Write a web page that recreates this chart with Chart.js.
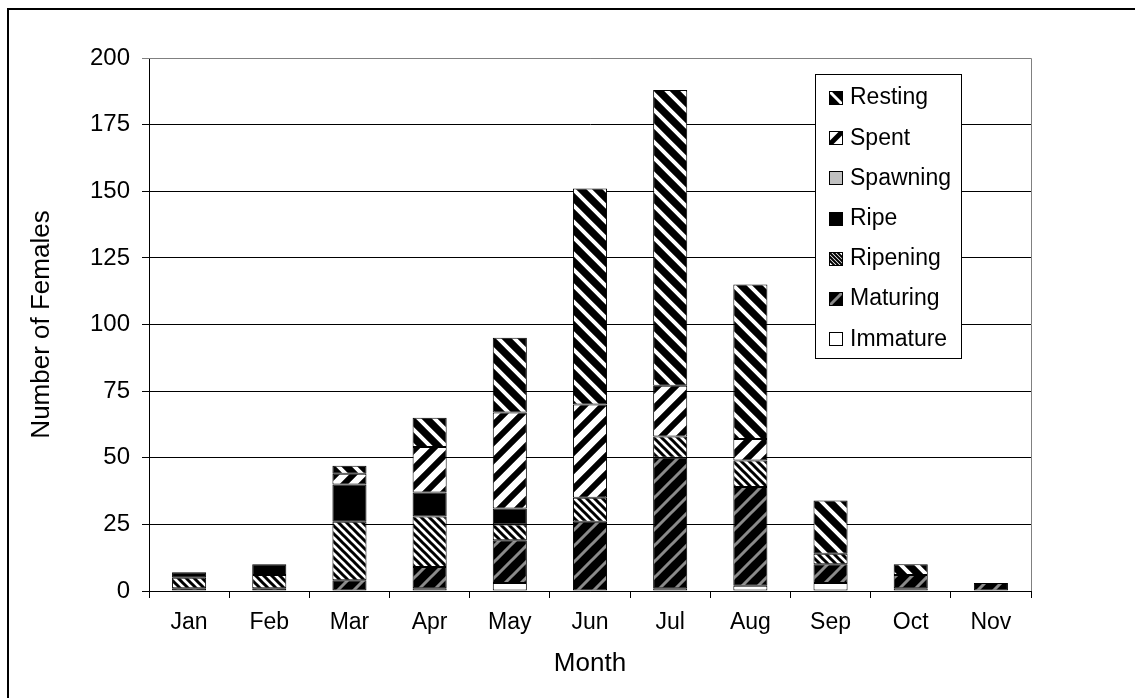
<!DOCTYPE html>
<html><head><meta charset="utf-8">
<script src="https://cdn.jsdelivr.net/npm/chart.js@4/dist/chart.umd.min.js"></script>
<style>html,body{margin:0;padding:0;background:#fff}#wrap{width:1135px;height:698px;position:relative}</style>
</head><body><div id="wrap"><canvas id="c" width="1135" height="698"></canvas></div>
<script>
const months = ['Jan','Feb','Mar','Apr','May','Jun','Jul','Aug','Sep','Oct','Nov'];
const immature = [0, 0, 0, 1, 3, 0, 1, 2, 3, 1, 0];
const maturing = [1, 1, 4, 8, 16, 26, 49, 37, 7, 5, 3];
const ripening = [4, 5, 22, 19, 6, 9, 8, 10, 4, 0, 0];
const ripe     = [2, 4, 14, 9, 6, 0, 0, 0, 0, 0, 0];
const spawning = [0, 0, 0, 0, 0, 0, 0, 0, 0, 0, 0];
const spent    = [0, 0, 4, 17, 36, 35, 19, 8, 0, 0, 0];
const resting  = [0, 0, 3, 11, 28, 81, 111, 58, 20, 4, 0];
const yTicks = [0, 25, 50, 75, 100, 125, 150, 175, 200];

const FONT = '"Liberation Sans", Arial, sans-serif';

function stripes(bg, fg, size, lw, dir) {
  const c = document.createElement('canvas');
  c.width = c.height = size;
  const x = c.getContext('2d');
  x.fillStyle = bg; x.fillRect(0, 0, size, size);
  x.strokeStyle = fg; x.lineWidth = lw;
  x.beginPath();
  for (let k = -1; k <= 1; k++) {
    if (dir === 'back') { x.moveTo(k*size - size, -size); x.lineTo(k*size + 2*size, 2*size); }
    else { x.moveTo(k*size - size, 2*size); x.lineTo(k*size + 2*size, -size); }
  }
  x.stroke();
  return x.createPattern(c, 'repeat');
}

const styles = {
  Immature: { bg: '#ffffff' },
  Maturing: { bg: '#000000', fg: '#8a8a8a', size: 16, lw: 3, dir: 'fwd', slw: 3 },
  Ripening: { bg: '#ffffff', fg: '#000000', size: 8, lw: 3, dir: 'back', sstep: 4, slw: 2 },
  Ripe:     { bg: '#000000' },
  Spawning: { bg: '#c0c0c0' },
  Spent:    { bg: '#ffffff', fg: '#000000', size: 18, lw: 6, dir: 'fwd', slw: 5 },
  Resting:  { bg: '#000000', fg: '#ffffff', size: 16, lw: 4, dir: 'back', slw: 3 }
};
function fillFor(name) {
  const s = styles[name];
  return s.fg ? stripes(s.bg, s.fg, s.size, s.lw, s.dir) : s.bg;
}

function ds(label, data) {
  return { label, data, backgroundColor: fillFor(label), borderColor: '#000', borderWidth: 1,
           borderSkipped: false, barPercentage: 0.85, categoryPercentage: 0.5 };
}

function drawSwatch(ctx, name, x, y, w) {
  const s = styles[name];
  ctx.save();
  ctx.beginPath(); ctx.rect(x, y, w, w); ctx.clip();
  ctx.fillStyle = s.bg; ctx.fillRect(x, y, w, w);
  if (s.fg) {
    ctx.strokeStyle = s.fg; ctx.lineWidth = s.slw;
    ctx.beginPath();
    const offs = s.sstep ? [-2 * s.sstep, -s.sstep, 0, s.sstep, 2 * s.sstep] : [0];
    offs.forEach(o => {
      if (s.dir === 'back') { ctx.moveTo(x + o - 2, y - 2); ctx.lineTo(x + o + w + 2, y + w + 2); }
      else { ctx.moveTo(x + o - 2, y + w + 2); ctx.lineTo(x + o + w + 2, y - 2); }
    });
    ctx.stroke();
  }
  ctx.restore();
  ctx.strokeStyle = '#000'; ctx.lineWidth = 1;
  ctx.strokeRect(x + 0.5, y + 0.5, w - 1, w - 1);
}

const frame = {
  id: 'frame',
  beforeDatasetsDraw(chart) {
    const ctx = chart.ctx, a = chart.chartArea;
    ctx.save();
    ctx.strokeStyle = '#808080'; ctx.lineWidth = 1;
    ctx.beginPath();
    ctx.moveTo(a.left, a.top + 0.5); ctx.lineTo(a.right + 0.5, a.top + 0.5);
    ctx.lineTo(a.right + 0.5, a.bottom);
    ctx.stroke();
    ctx.restore();
  },
  afterDraw(chart) {
    const ctx = chart.ctx;
    ctx.save();
    ctx.strokeStyle = '#000'; ctx.lineWidth = 2;
    ctx.beginPath();
    ctx.moveTo(8, 700); ctx.lineTo(8, 9); ctx.lineTo(1140, 9);
    ctx.stroke();
    const bx = 815.5, by = 74.5, bw = 146, bh = 284;
    ctx.fillStyle = '#fff';
    ctx.fillRect(bx, by, bw, bh);
    ctx.strokeStyle = '#000'; ctx.lineWidth = 1;
    ctx.strokeRect(bx, by, bw, bh);
    const items = chart.data.datasets.slice().reverse();
    ctx.font = '23px ' + FONT;
    ctx.textBaseline = 'middle';
    ctx.textAlign = 'left';
    items.forEach((d, i) => {
      const cy = 97 + i * 40.2;
      drawSwatch(ctx, d.label, 829, Math.round(cy - 6), 14);
      ctx.fillStyle = '#000';
      ctx.fillText(d.label, 850, cy + 1);
    });
    ctx.restore();
  }
};

new Chart(document.getElementById('c'), {
  type: 'bar',
  data: {
    labels: months,
    datasets: [
      ds('Immature', immature),
      ds('Maturing', maturing),
      ds('Ripening', ripening),
      ds('Ripe', ripe),
      ds('Spawning', spawning),
      ds('Spent', spent),
      ds('Resting', resting)
    ]
  },
  options: {
    responsive: false,
    animation: false,
    devicePixelRatio: 1,
    layout: { padding: { left: 22, top: 58, right: 104, bottom: 15 } },
    plugins: { legend: { display: false }, tooltip: { enabled: false } },
    scales: {
      x: {
        stacked: true,
        afterFit: s => { s.height = 92; },
        grid: { display: true, drawOnChartArea: false, drawTicks: true, tickLength: 7, color: '#000', offset: true },
        border: { color: '#000', width: 1 },
        ticks: { color: '#000', font: { family: FONT, size: 23 }, padding: 11, maxRotation: 0, autoSkip: false },
        title: { display: true, text: 'Month', color: '#000', font: { family: FONT, size: 26 } }
      },
      y: {
        stacked: true,
        min: 0, max: 200,
        afterFit: s => { s.width = 127; },
        afterBuildTicks: s => { s.ticks = yTicks.map(v => ({ value: v })); },
        grid: { color: c => (c.tick && c.tick.value === 200) ? '#808080' : '#000', tickLength: 7, drawTicks: true },
        border: { color: '#000', width: 1 },
        ticks: { color: '#000', font: { family: FONT, size: 24 }, padding: 12 },
        title: { display: true, text: 'Number of Females', color: '#000', font: { family: FONT, size: 26 } }
      }
    }
  },
  plugins: [frame]
});
</script>
</body></html>
